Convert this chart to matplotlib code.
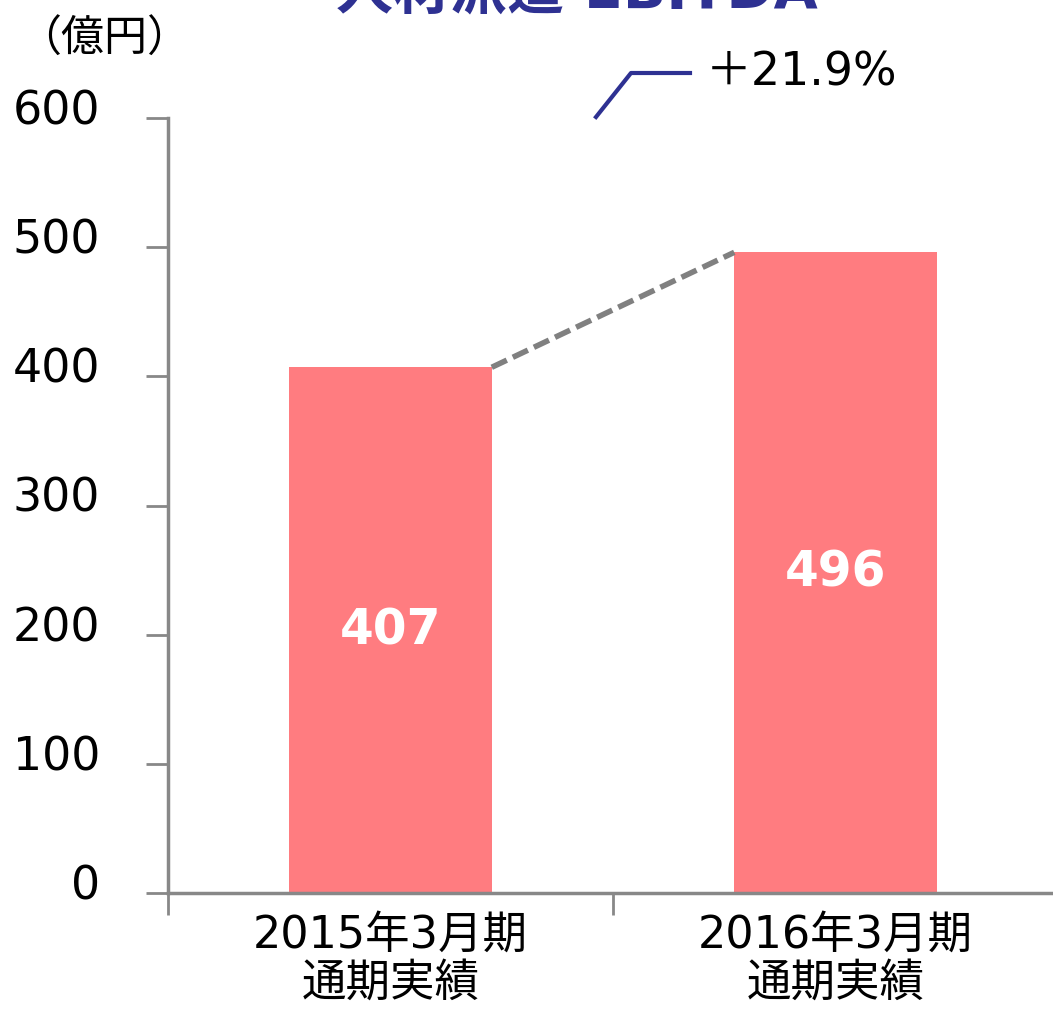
import matplotlib
matplotlib.use("Agg")
import matplotlib.pyplot as plt
from matplotlib.transforms import ScaledTranslation

plt.rcParams['font.family'] = ['DejaVu Sans', 'Noto Sans CJK JP']

# データ
categories = ["2015年3月期\n通期実績", "2016年3月期\n通期実績"]
values = [407, 496]
growth_label = "＋21.9%"
title = "人材派遣 EBITDA"
unit = "（億円）"
yticks = [0, 100, 200, 300, 400, 500, 600]

W, H = 1053, 1010
fig = plt.figure(figsize=(W / 100, H / 100), dpi=100)
# 軸の位置（ピクセル→比率）
left, right, bottom, top = 168, 1058, 893, 118
ax = fig.add_axes([left / W, 1 - bottom / H, (right - left) / W, (bottom - top) / H])

bar_w = 0.455
x = list(range(len(values)))
bars = ax.bar(x, values, width=bar_w, color='#FF7C80', zorder=2)

# 棒グラフ内の数値
for xi, v in zip(x, values):
    ax.text(xi, v / 2, str(v), ha='center', va='center', color='white',
            fontsize=35, fontweight='bold', zorder=3)

# 棒の間の点線
ax.plot([x[0] + bar_w / 2, x[1] - bar_w / 2], [values[0], values[1]],
        color='#808080', lw=4, ls=(0, (3, 1.2)), zorder=3, solid_capstyle='butt')

ax.set_xlim(-0.5, 1.5)
ax.set_ylim(0, 600)
ax.set_yticks(yticks)
ax.set_yticklabels([])
# 目盛りラベル（少し上にずらして描く）
ytf = ax.get_yaxis_transform() + ScaledTranslation(0, 0.06, fig.dpi_scale_trans)
for t in yticks:
    ax.text(-0.076, t, str(t), transform=ytf, ha='right', va='center', fontsize=33)
ax.set_xticks([-0.5, 0.5, 1.5])
ax.set_xticklabels([])
ax.set_xticks(x, minor=True)
ax.set_xticklabels(categories, minor=True, fontsize=32, linespacing=1.15)
ax.tick_params(axis='x', which='minor', length=0, pad=15)
ax.tick_params(axis='x', which='major', length=16, width=2, color='#888888', direction='out')
ax.tick_params(axis='y', length=16, width=2, color='#888888', direction='out')

for s in ['top', 'right']:
    ax.spines[s].set_visible(False)
for s in ['left', 'bottom']:
    ax.spines[s].set_color('#888888')
    ax.spines[s].set_linewidth(2.5)

# 単位
fig.text(18 / W, 1 - 40 / H, unit, ha='left', va='center', fontsize=31)

# タイトル（上部が切れている）
fig.text(577 / W, 1 - 8 / H, title, ha='center', va='baseline', fontsize=41,
         fontweight='bold', color='#2E3192')

# 成長率の注記
fig.add_artist(plt.Line2D([596 / W, 631 / W, 690 / W],
                          [1 - 117 / H, 1 - 73 / H, 1 - 73 / H],
                          color='#2E3192', lw=3))
fig.text(706 / W, 1 - 73 / H, growth_label, ha='left', va='center', fontsize=33)

fig.savefig('out.png', dpi=100)
